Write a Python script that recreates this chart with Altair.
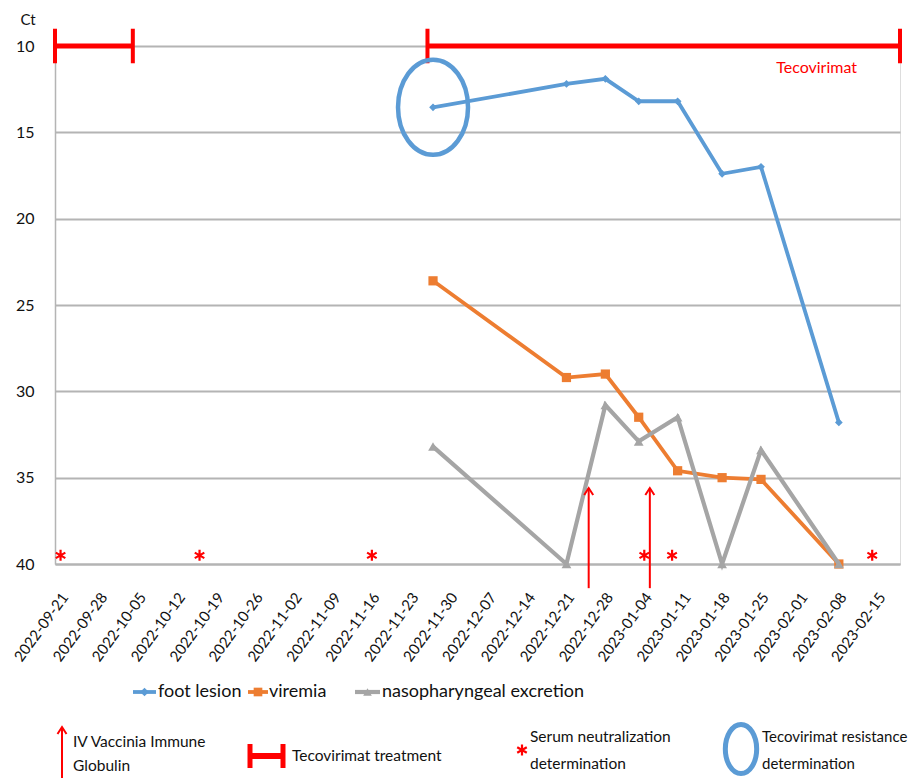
import altair as alt
import pandas as pd

FONT = "Lato, Liberation Sans, sans-serif"
RED = "#FF0000"
BLUE = "#5B9BD5"
ORANGE = "#ED7D31"
GRAY = "#A5A5A5"
GRID = "#B4B4B4"
TXT = "#111111"

# ---------------- data ----------------
sample_dates = ["2022-11-27", "2022-12-21", "2022-12-28", "2023-01-03",
                "2023-01-10", "2023-01-18", "2023-01-25", "2023-02-08"]
foot_lesion = [13.55, 12.2, 11.9, 13.2, 13.2, 17.4, 17.0, 31.8]
viremia = [23.6, 29.2, 29.0, 31.5, 34.6, 35.0, 35.1, 40.0]
nasopharyngeal = [33.2, 40.0, 30.8, 32.9, 31.5, 40.0, 33.4, 40.0]
series_names = ["foot lesion", "viremia", "nasopharyngeal excretion"]

tick_dates = ["2022-09-21", "2022-09-28", "2022-10-05", "2022-10-12", "2022-10-19",
              "2022-10-26", "2022-11-02", "2022-11-09", "2022-11-16", "2022-11-23",
              "2022-11-30", "2022-12-07", "2022-12-14", "2022-12-21", "2022-12-28",
              "2023-01-04", "2023-01-11", "2023-01-18", "2023-01-25", "2023-02-01",
              "2023-02-08", "2023-02-15"]
ct_ticks = [10, 15, 20, 25, 30, 35, 40]
x_domain = ["2022-09-20", "2023-02-19"]

treatment_start = ["2022-09-20", "2022-11-26"]
treatment_end = ["2022-10-04", "2023-02-19"]
treatment_ct = [10, 10]

ivig_dates = ["2022-12-25", "2023-01-05"]
ivig_from = [41.4, 41.4]
ivig_to = [35.6, 35.6]

serum_dates = ["2022-09-21", "2022-10-16", "2022-11-16", "2023-01-04", "2023-01-09", "2023-02-14"]
serum_ct = [39.5, 39.5, 39.5, 39.5, 39.5, 39.5]

resistance_date = ["2022-11-27"]
resistance_ct = [13.55]

note_text = ["Tecovirimat"]
note_date = ["2023-02-04"]
note_ct = [11.3]

# ---------------- shapes / styles ----------------
CHEVRON = "M-0.5,0.78L0,0L0.5,0.78"
ASTERISK = "M0,-1L0,1M-0.87,-0.5L0.87,0.5M-0.87,0.5L0.87,-0.5"
ELLIPSE = "M-0.737,0A0.737,1,0,1,1,0.737,0A0.737,1,0,1,1,-0.737,0Z"
ELLIPSE_LEG = "M-0.64,0A0.64,1,0,1,1,0.64,0A0.64,1,0,1,1,-0.64,0Z"
series_colors = [BLUE, ORANGE, GRAY]
series_shapes = ["diamond", "square", "triangle-up"]
series_sizes = [60, 85, 95]
series_widths = [3.8, 3.8, 4.2]


def dt(s):
    y, m, d = (int(v) for v in s.split("-"))
    return alt.DateTime(year=y, month=m, date=d)


x_scale = alt.Scale(domain=[dt(x_domain[0]), dt(x_domain[1])], nice=False)
y_scale = alt.Scale(domain=[10, 40], reverse=True, nice=False, zero=False)

x_axis = alt.Axis(values=[dt(d) for d in tick_dates], format="%Y-%m-%d", labelAngle=306,
                  labelAlign="right", labelBaseline="middle", labelPadding=30, labelOffset=4,
                  ticks=False, tickSize=0, grid=False, domain=True, domainColor=GRID,
                  domainWidth=2, labelFont=FONT, labelFontSize=15, labelColor=TXT,
                  labelOverlap=False, labelFlush=False, title=None)
y_axis = alt.Axis(values=ct_ticks, ticks=False, tickSize=0, labelPadding=21, labelFont=FONT,
                  labelFontSize=16, labelColor=TXT, grid=True, gridColor=GRID, gridWidth=2,
                  domain=True, domainColor=GRID, domainWidth=1.5, title="Ct", titleAngle=0,
                  titleX=-35, titleY=-27, titleAlign="left", titleBaseline="middle",
                  titleFont=FONT, titleFontSize=15, titleFontWeight="normal", titleColor=TXT)


def X(f):
    return alt.X(f, type="temporal", scale=x_scale, axis=x_axis)


def Y(f):
    return alt.Y(f, type="quantitative", scale=y_scale, axis=y_axis)


# ---------------- tables ----------------
rows = []
for name, vals in zip(series_names, [foot_lesion, viremia, nasopharyngeal]):
    for d, v in zip(sample_dates, vals):
        rows.append({"date": pd.Timestamp(d), "ct": v, "series": name})
series_df = pd.DataFrame(rows)

treat_df = pd.DataFrame({"start": pd.to_datetime(treatment_start),
                         "end": pd.to_datetime(treatment_end),
                         "ct": treatment_ct})
caps_df = pd.DataFrame({"date": pd.to_datetime(treatment_start + treatment_end),
                        "ct": treatment_ct + treatment_ct})
caps_df["lo"] = caps_df["ct"] - 1.0
caps_df["hi"] = caps_df["ct"] + 1.0

ivig_df = pd.DataFrame({"date": pd.to_datetime(ivig_dates), "lo": ivig_from, "hi": ivig_to})
serum_df = pd.DataFrame({"date": pd.to_datetime(serum_dates), "ct": serum_ct})
res_df = pd.DataFrame({"date": pd.to_datetime(resistance_date), "ct": resistance_ct})
note_df = pd.DataFrame({"date": pd.to_datetime(note_date), "ct": note_ct, "t": note_text})

layers = []
layers.append(alt.Chart(treat_df).mark_rule(color=RED, strokeWidth=5).encode(
    x=X("start"), x2="end", y=Y("ct")))
layers.append(alt.Chart(caps_df).mark_rule(color=RED, strokeWidth=4).encode(
    x=X("date"), y=Y("lo"), y2="hi"))

for name, col, shp, sz, w in zip(series_names, series_colors, series_shapes, series_sizes, series_widths):
    sub = series_df[series_df["series"] == name]
    layers.append(alt.Chart(sub).mark_line(color=col, strokeWidth=w).encode(
        x=X("date"), y=Y("ct")))
    layers.append(alt.Chart(sub).mark_point(color=col, shape=shp, size=sz, filled=True, opacity=1).encode(
        x=X("date"), y=Y("ct")))

layers.append(alt.Chart(ivig_df).mark_rule(color=RED, strokeWidth=2).encode(
    x=X("date"), y=Y("lo"), y2="hi"))
layers.append(alt.Chart(ivig_df).mark_point(shape=CHEVRON, size=324, filled=False, stroke=RED,
                                            strokeWidth=2, opacity=1).encode(
    x=X("date"), y=Y("hi")))
layers.append(alt.Chart(serum_df).mark_point(shape=ASTERISK, size=121, filled=False, stroke=RED,
                                             strokeWidth=2.2, opacity=1).encode(
    x=X("date"), y=Y("ct")))
layers.append(alt.Chart(res_df).mark_point(shape=ELLIPSE, size=9025, filled=False, stroke=BLUE,
                                           strokeWidth=4.5, opacity=1).encode(
    x=X("date"), y=Y("ct")))
layers.append(alt.Chart(note_df).mark_text(color=RED, font=FONT, fontSize=16, align="center",
                                           baseline="middle").encode(
    x=X("date"), y=Y("ct"), text="t:N"))

# ---------------- legend (pixel layout) ----------------
one = pd.DataFrame({"k": [0]})


def ltext(label, x, y, size=15):
    return alt.Chart(pd.DataFrame({"t": [label]})).mark_text(
        font=FONT, fontSize=size, color=TXT, align="left", baseline="middle").encode(
        x=alt.value(x), y=alt.value(y), text="t:N")


LEG_Y = 646
legend_slots = [(78, 101, 103), (193, 213, 214), (300, 325, 327)]
for name, col, shp, w, (x0, x1, tx) in zip(series_names, series_colors, series_shapes,
                                           series_widths, legend_slots):
    layers.append(alt.Chart(one).mark_rule(color=col, strokeWidth=w).encode(
        x=alt.value(x0), x2=alt.value(x1), y=alt.value(LEG_Y)))
    layers.append(alt.Chart(one).mark_point(color=col, shape=shp, size=75, filled=True, opacity=1).encode(
        x=alt.value((x0 + x1) / 2), y=alt.value(LEG_Y)))
    layers.append(ltext(name, tx, LEG_Y, 18))

# arrow
layers.append(alt.Chart(one).mark_rule(color=RED, strokeWidth=2).encode(
    x=alt.value(7), y=alt.value(681), y2=alt.value(740)))
layers.append(alt.Chart(one).mark_point(shape=CHEVRON, size=324, filled=False, stroke=RED,
                                        strokeWidth=2, opacity=1).encode(
    x=alt.value(7), y=alt.value(681)))
layers.append(ltext("IV Vaccinia Immune", 18, 696, 15.5))
layers.append(ltext("Globulin", 18, 720, 15.5))
# treatment
layers.append(alt.Chart(one).mark_rule(color=RED, strokeWidth=6).encode(
    x=alt.value(193), x2=alt.value(230), y=alt.value(710)))
for cx in (195, 228):
    layers.append(alt.Chart(one).mark_rule(color=RED, strokeWidth=5).encode(
        x=alt.value(cx), y=alt.value(698), y2=alt.value(722)))
layers.append(ltext("Tecovirimat treatment", 237, 710, 15.5))
# serum
layers.append(alt.Chart(one).mark_point(shape=ASTERISK, size=121, filled=False, stroke=RED,
                                        strokeWidth=2.2, opacity=1).encode(
    x=alt.value(467), y=alt.value(704)))
layers.append(ltext("Serum neutralization", 475, 691, 15.5))
layers.append(ltext("determination", 475, 718, 15.5))
# resistance
layers.append(alt.Chart(one).mark_point(shape=ELLIPSE_LEG, size=2400, filled=False, stroke=BLUE,
                                        strokeWidth=5, opacity=1).encode(
    x=alt.value(686), y=alt.value(703)))
layers.append(ltext("Tecovirimat resistance", 707, 691, 15))
layers.append(ltext("determination", 707, 718, 15))

chart = alt.layer(*layers).properties(
    width=845, height=518,
    autosize=alt.AutoSizeParams(type="none"),
    padding={"left": 47, "top": 38, "right": 10, "bottom": 214},
).configure_view(stroke=None).configure(background="white")

chart.save("out.html", embed_options={"renderer": "svg", "actions": False})
